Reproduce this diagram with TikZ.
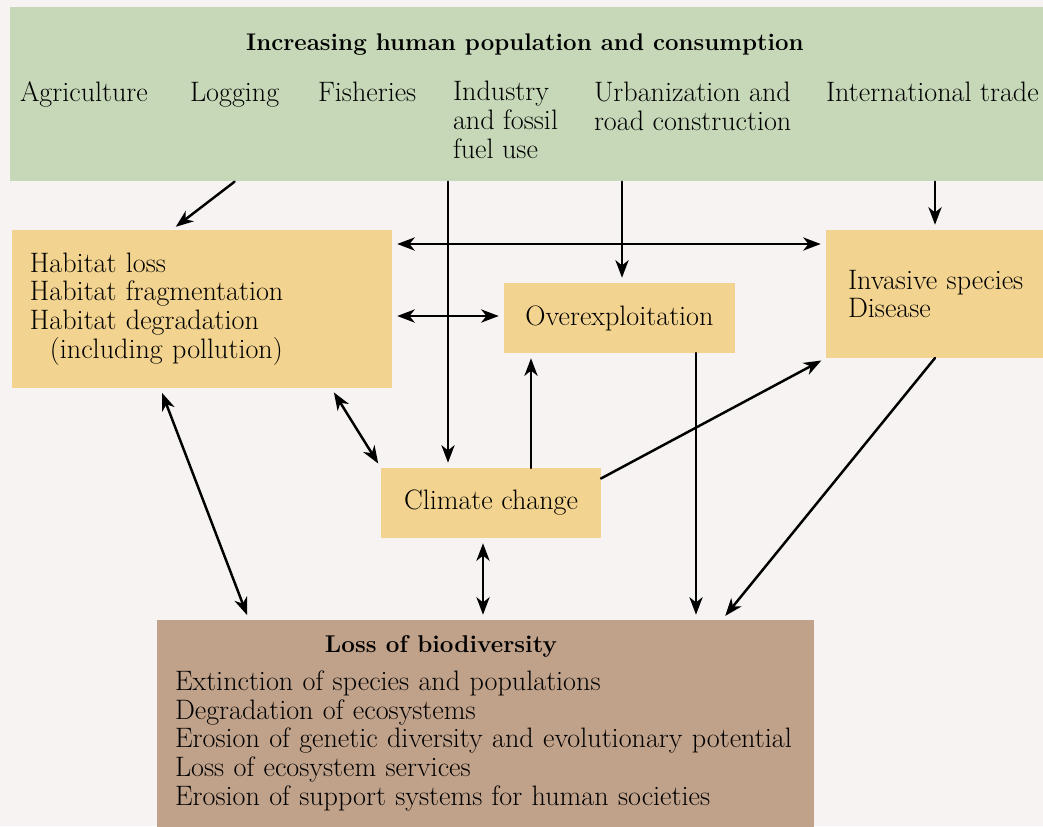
\documentclass[tikz,border=0pt]{standalone}
\usetikzlibrary{arrows.meta,calc}
\definecolor{paper}{RGB}{246,243,242}
\definecolor{topgreen}{RGB}{198,216,184}
\definecolor{boxtan}{RGB}{242,211,143}
\definecolor{lossbrown}{RGB}{192,161,137}
\begin{document}
\begin{tikzpicture}[x=0.02cm, y=-0.02cm, line cap=round,
    font=\fontsize{16}{16.3}\selectfont,
    lbl/.style={inner sep=0pt, outer sep=0pt, align=left},
    tbox/.style={fill=boxtan, inner sep=0pt, outer sep=0pt},
    arr/.style={line width=1.4pt, -{Stealth[length=10pt,width=7.5pt,inset=3pt]}, shorten >=3pt},
    dbl/.style={line width=1.4pt, {Stealth[length=10pt,width=7.5pt,inset=3pt]}-{Stealth[length=10pt,width=7.5pt,inset=3pt]}, shorten >=3pt, shorten <=3pt}]
  \fill[paper] (0,0) rectangle (1043,826);
  \clip (0,0) rectangle (1043,826);
  % drivers
  \node[fill=topgreen, anchor=north west, minimum width=21cm, minimum height=3.48cm, inner sep=0pt] (top) at (10,7) {};
  \node[lbl, font=\fontsize{13.7}{16.3}\selectfont\bfseries, anchor=base] (title) at (525,50) {Increasing human population and consumption};
  \node[lbl, anchor=base west] (agri) at (20,101) {Agriculture};
  \node[lbl, anchor=base west] (logg) at (190,101) {Logging};
  \node[lbl, anchor=base west] (fish) at (318,101) {Fisheries};
  % base of a multi-line node is its last line
  \node[lbl, anchor=base west] (indus) at (453,158) {Industry\\and fossil\\fuel use};
  \node[lbl, anchor=base west] (urban) at (594,130) {Urbanization and\\road construction};
  \node[lbl, anchor=base west] (trade) at (826,101) {International trade};
  % threats
  \node[tbox, anchor=north west, minimum width=7.6cm, minimum height=3.16cm, text width=6.88cm, inner xsep=0.36cm, align=left] (hab) at (12,230)
    {Habitat loss\\Habitat fragmentation\\Habitat degradation\\\hspace*{0.4cm}(including pollution)};
  \node[tbox, anchor=north west, minimum width=4.62cm, minimum height=1.4cm] (over) at (504,283) {Overexploitation};
  \node[tbox, anchor=north west, minimum width=4.8cm, minimum height=2.56cm, text width=3.92cm, inner xsep=0.44cm, align=left] (inv) at (826,230)
    {Invasive species\\Disease};
  \node[tbox, anchor=north west, minimum width=4.4cm, minimum height=1.4cm] (clim) at (381,468) {Climate change};
  % outcome
  \node[fill=lossbrown, anchor=north west, text width=12.42cm, inner xsep=0.36cm, inner ysep=0.32cm, outer sep=0pt, align=left] (loss) at (157,620)
    {\hspace*{3cm}{\fontsize{13.8}{16.3}\selectfont\bfseries Loss of biodiversity}\\[0.18cm]
     Extinction of species and populations\\
     Degradation of ecosystems\\
     Erosion of genetic diversity and evolutionary potential\\
     Loss of ecosystem services\\
     Erosion of support systems for human societies};
  % columns and rows of the straight connectors
  \coordinate (xind) at (448,0);
  \coordinate (xurb) at (622,0);
  \coordinate (xcu) at (531,0);
  \coordinate (xov) at (696,0);
  \coordinate (xcl) at (483,0);
  \coordinate (xtr) at (935,0);
  \coordinate (yhi) at (0,244);
  \coordinate (ylo) at (0,316);
  \draw[arr] (logg.south |- top.south) -- ($(hab.north west)!0.42!(hab.north east)$);
  \draw[arr] (xind |- top.south) -- (xind |- clim.north);
  \draw[arr] (xurb |- top.south) -- (xurb |- over.north);
  \draw[arr] (xtr |- top.south) -- (xtr |- inv.north);
  \draw[dbl] (hab.east |- yhi) -- (inv.west |- yhi);
  \draw[dbl] (hab.east |- ylo) -- (over.west |- ylo);
  \draw[arr] (xcu |- clim.north) -- (xcu |- over.south);
  \draw[arr] ($(clim.north east)!0.15!(clim.south east)$) -- (inv.south west);
  \draw[dbl] ($(hab.south west)!0.84!(hab.south east)$) -- (clim.north west);
  \draw[dbl] ($(hab.south west)!0.39!(hab.south east)$) -- ($(loss.north west)!0.14!(loss.north east)$);
  \draw[dbl] (xcl |- clim.south) -- (xcl |- loss.north);
  \draw[arr] (xov |- over.south) -- (xov |- loss.north);
  \draw[arr] (xtr |- inv.south) -- ($(loss.north west)!0.86!(loss.north east)$);
\end{tikzpicture}
\end{document}
